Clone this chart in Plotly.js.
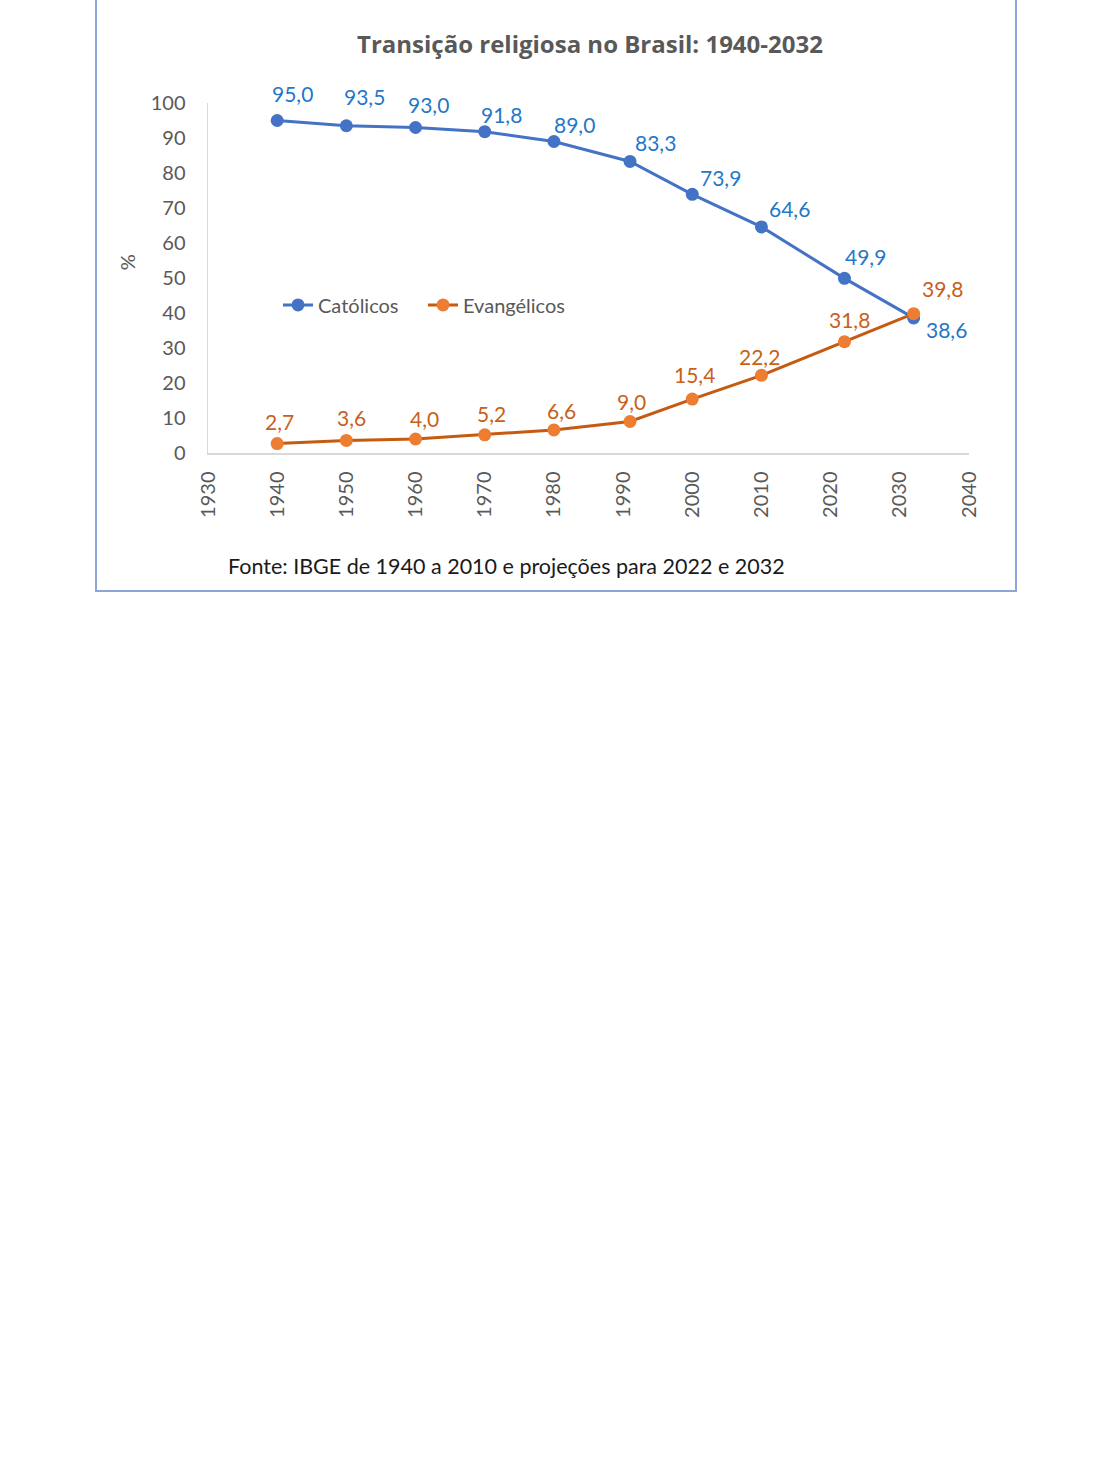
<!DOCTYPE html>
<html>
<head>
<meta charset="utf-8">
<script src="https://cdn.plot.ly/plotly-3.0.1.min.js"></script>
<style>
  html, body { margin: 0; padding: 0; background: #fff; }
  #plot { width: 1110px; height: 1471px; }
  #frame {
    position: absolute; left: 95px; top: -4px; width: 922px; height: 596px;
    border: 2px solid #8DA5D6; pointer-events: none; box-sizing: border-box;
  }
</style>
</head>
<body>
<div id="plot"></div>
<div id="frame"></div>
<script>
// Data
const years = [1940, 1950, 1960, 1970, 1980, 1991, 2000, 2010, 2022, 2032];
const catolicos = [95.0, 93.5, 93.0, 91.8, 89.0, 83.3, 73.9, 64.6, 49.9, 38.6];
const evangelicos = [2.7, 3.6, 4.0, 5.2, 6.6, 9.0, 15.4, 22.2, 31.8, 39.8];
const xTicks = [1930, 1940, 1950, 1960, 1970, 1980, 1990, 2000, 2010, 2020, 2030, 2040];

// label offsets (px) relative to each point
const catShift = [[15, 27], [18, 29], [13, 23], [17, 17], [21, 17], [25, 19], [28, 17], [28, 18], [21, 22], [33, -12]];
const evaShift = [[2, 22], [5, 23], [9, 21], [7, 21], [8, 19], [1, 20], [2, 25], [-2, 19], [5, 22], [29, 25]];

const FONT = 'Lato, "Open Sans", sans-serif';
const GREY = '#595959';

function fmt(v) {
  return v.toFixed(1).replace('.', ',');
}

const traces = [
  {
    x: years, y: catolicos, name: 'Católicos',
    mode: 'lines+markers', type: 'scatter',
    line: { color: '#4472C4', width: 3 },
    marker: { color: '#4472C4', size: 13 },
  },
  {
    x: years, y: evangelicos, name: 'Evangélicos',
    mode: 'lines+markers', type: 'scatter',
    line: { color: '#C55A11', width: 3 },
    marker: { color: '#ED7D31', size: 13 },
  },
];

const annotations = [];
years.forEach((yr, i) => {
  annotations.push({
    x: yr, y: catolicos[i], text: fmt(catolicos[i]), showarrow: false,
    xshift: catShift[i][0], yshift: catShift[i][1],
    font: { family: FONT, size: 21, color: '#1F78C8' },
  });
  annotations.push({
    x: yr, y: evangelicos[i], text: fmt(evangelicos[i]), showarrow: false,
    xshift: evaShift[i][0], yshift: evaShift[i][1],
    font: { family: FONT, size: 21, color: '#C8601A' },
  });
});
annotations.push({
  xref: 'paper', yref: 'paper', x: -0.106, y: 0.546, text: '%',
  xanchor: 'center', yanchor: 'middle',
  textangle: -90, showarrow: false,
  font: { family: FONT, size: 20, color: GREY },
});
annotations.push({
  xref: 'paper', yref: 'paper', x: 0.3916, y: -0.323,
  xanchor: 'center', yanchor: 'middle',
  text: 'Fonte: IBGE de 1940 a 2010 e projeções para 2022 e 2032',
  showarrow: false,
  font: { family: FONT, size: 21.5, color: '#1A1A1A' },
});

const layout = {
  width: 1110, height: 1471,
  margin: { l: 208, r: 141, t: 103, b: 1018 },
  paper_bgcolor: 'rgba(0,0,0,0)',
  plot_bgcolor: 'rgba(0,0,0,0)',
  font: { family: FONT, color: GREY },
  title: {
    text: '<b>Transição religiosa no Brasil: 1940-2032</b>',
    xref: 'container', yref: 'container', x: 0.5315, y: 0.970,
    xanchor: 'center', yanchor: 'middle',
    font: { family: '"Open Sans", Lato, sans-serif', size: 24, color: GREY },
  },
  xaxis: {
    range: [1930, 2040], tickvals: xTicks, tickangle: -90,
    showgrid: false, zeroline: false,
    showline: true, linecolor: '#D9D9D9', linewidth: 1.5,
    ticks: '', ticklabelstandoff: 9,
    tickfont: { family: FONT, size: 20, color: GREY },
  },
  yaxis: {
    range: [0, 100], dtick: 10,
    showgrid: false, zeroline: false,
    showline: true, linecolor: '#D9D9D9', linewidth: 1.5,
    ticks: '', ticklabelstandoff: 17,
    tickfont: { family: FONT, size: 20, color: GREY },
  },
  legend: {
    orientation: 'h', x: 0.092, y: 0.423, xanchor: 'left', yanchor: 'middle',
    bgcolor: 'rgba(0,0,0,0)',
    font: { family: FONT, size: 20, color: GREY },
    itemwidth: 30, entrywidth: 100, entrywidthmode: 'pixels',
  },
  annotations,
};

Plotly.newPlot('plot', traces, layout, { displayModeBar: false, staticPlot: true });
</script>
</body>
</html>
